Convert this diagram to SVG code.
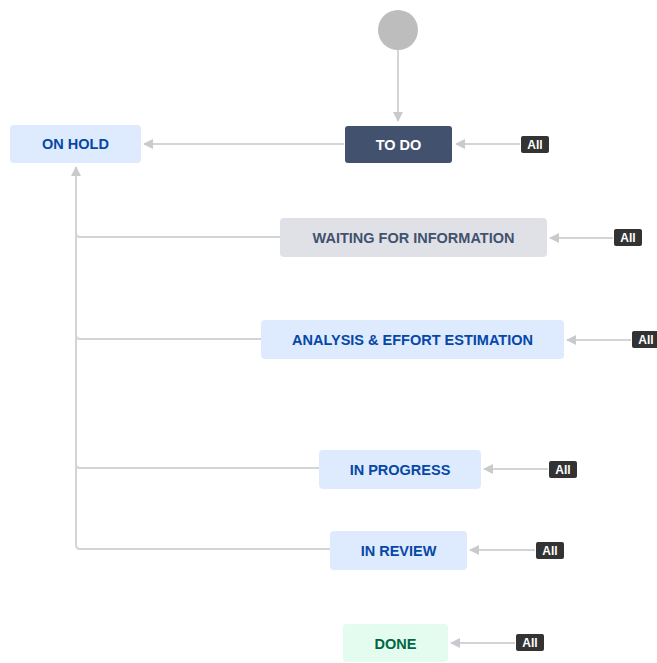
<svg xmlns="http://www.w3.org/2000/svg" width="657" height="663" viewBox="0 0 657 663">
<style>
.n text{font-family:"Liberation Sans",Arial,sans-serif;font-weight:bold;font-size:14.5px;text-anchor:middle;dominant-baseline:central}
.blue rect{fill:#DEEBFF}.blue text{fill:#0747A6}
.gray rect{fill:#DFE1E6}.gray text{fill:#42526E}
.dark rect{fill:#42526E}.dark text{fill:#FFFFFF}
.green rect{fill:#E3FCEF}.green text{fill:#006644}
.badge rect{fill:#333333}
.badge text{font-family:"Liberation Sans",Arial,sans-serif;font-weight:bold;font-size:12px;fill:#fff;text-anchor:middle;dominant-baseline:central}
.c path{fill:none;stroke:#D2D4D8;stroke-width:2}
</style>
<defs>
<marker id="ah" markerWidth="10" markerHeight="10" refX="9" refY="5" orient="auto" markerUnits="userSpaceOnUse"><path d="M0,0 L10,5 L0,10 Z" fill="#C8CACE"/></marker>
</defs>
<rect width="657" height="663" fill="#fff"/>
<g id="connectors" class="c">
<path d="M398,50 V121" marker-end="url(#ah)"/>
<path d="M344,144 H144" marker-end="url(#ah)"/>
<path d="M520,144 H456" marker-end="url(#ah)"/>
<path d="M613,238 H550" marker-end="url(#ah)"/>
<path d="M631,340 H567" marker-end="url(#ah)"/>
<path d="M548,469 H484" marker-end="url(#ah)"/>
<path d="M535,550 H470" marker-end="url(#ah)"/>
<path d="M515,643 H451" marker-end="url(#ah)"/>
<path d="M280,237 H80 Q76,237 76,233"/>
<path d="M261,339 H80 Q76,339 76,335"/>
<path d="M319,468 H80 Q76,468 76,464"/>
<path d="M330,549 H80 Q76,549 76,545 V167" marker-end="url(#ah)"/>
</g>
<g id="start"><circle cx="398" cy="30" r="20" fill="#BDBDBD"/></g>
<g id="todo" class="n dark"><rect x="345" y="126" width="107" height="37" rx="3"/><text x="398.5" y="144.5">TO DO</text></g>
<g id="onhold" class="n blue"><rect x="10" y="125" width="131" height="38" rx="4"/><text x="75.5" y="144">ON HOLD</text></g>
<g id="waiting" class="n gray"><rect x="280" y="218" width="267" height="39" rx="4"/><text x="413.5" y="238">WAITING FOR INFORMATION</text></g>
<g id="analysis" class="n blue"><rect x="261" y="320" width="303" height="39" rx="4"/><text x="412.5" y="340">ANALYSIS &amp; EFFORT ESTIMATION</text></g>
<g id="inprogress" class="n blue"><rect x="319" y="450" width="162" height="39" rx="4"/><text x="400" y="470">IN PROGRESS</text></g>
<g id="inreview" class="n blue"><rect x="330" y="531" width="137" height="39" rx="4"/><text x="398.5" y="551">IN REVIEW</text></g>
<g id="done" class="n green"><rect x="343" y="624" width="105" height="38" rx="4"/><text x="395.5" y="644">DONE</text></g>
<g id="b1" class="badge"><rect x="521" y="136" width="28" height="17" rx="2"/><text x="535" y="145">All</text></g>
<g id="b2" class="badge"><rect x="614" y="229" width="28" height="17" rx="2"/><text x="628" y="238">All</text></g>
<g id="b3" class="badge"><rect x="632" y="331" width="28" height="17" rx="2"/><text x="646" y="340">All</text></g>
<g id="b4" class="badge"><rect x="549" y="461" width="28" height="17" rx="2"/><text x="563" y="470">All</text></g>
<g id="b5" class="badge"><rect x="536" y="542" width="28" height="17" rx="2"/><text x="550" y="551">All</text></g>
<g id="b6" class="badge"><rect x="516" y="634" width="28" height="17" rx="2"/><text x="530" y="643">All</text></g>
</svg>
